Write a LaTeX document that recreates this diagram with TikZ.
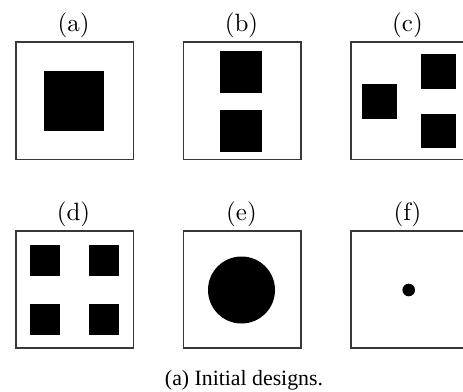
\documentclass[tikz,border=0pt]{standalone}
\usepackage{fontspec}
\newfontfamily\capfont{Liberation Serif}
\newfontfamily\labfont{lmroman10-regular}[Extension=.otf]
\begin{document}
\begin{tikzpicture}[x=1pt,y=-1pt,
  panel/.style={draw=black!78,line width=1.8pt,fill=white},
  blk/.style={fill=black,draw=none},
  lab/.style={anchor=base,inner sep=0pt,font=\labfont\fontsize{25}{28}\selectfont}]
\useasboundingbox (0,0) rectangle (463,391);
\clip (0,0) rectangle (463,391);
% row 1 panels
\draw[panel] (16,42) rectangle (133.5,159.5);
\draw[panel] (183.5,42) rectangle (301,159.5);
\draw[panel] (351,42) rectangle (468.5,159.5);
% row 2 panels
\draw[panel] (16,231) rectangle (133.5,348);
\draw[panel] (183.5,231) rectangle (301,348);
\draw[panel] (351,231) rectangle (468.5,348);
% labels
\node[lab] (la) at (73.5,31) {(a)};
\node[lab] (lb) at (241.5,31) {(b)};
\node[lab] (lc) at (407.5,31) {(c)};
\node[lab] (ld) at (73.5,220.5) {(d)};
\node[lab] (le) at (241.5,220.5) {(e)};
\node[lab] (lf) at (407.5,220.5) {(f)};
% (a)
\fill[blk] (44,71) rectangle (104,131);
% (b)
\fill[blk] (220,50.5) rectangle (262,92.5);
\fill[blk] (220,110) rectangle (262,152);
% (c)
\fill[blk] (362,84) rectangle (396.5,118.5);
\fill[blk] (421,54) rectangle (455.5,88.5);
\fill[blk] (421,113.5) rectangle (455.5,148);
% (d)
\fill[blk] (29.5,245) rectangle (60,275.5);
\fill[blk] (88.5,245) rectangle (119,275.5);
\fill[blk] (29.5,304) rectangle (60,334.5);
\fill[blk] (88.5,304) rectangle (119,334.5);
% (e)
\fill[blk] (241.5,290) circle[radius=33.5];
% (f)
\fill[blk] (408.7,290) circle[radius=6.3];
% caption
\node[anchor=base,inner sep=0pt,font=\capfont\fontsize{21.8}{26}\selectfont] (cap) at (244,385) {(a) Initial designs.};
\end{tikzpicture}
\end{document}
